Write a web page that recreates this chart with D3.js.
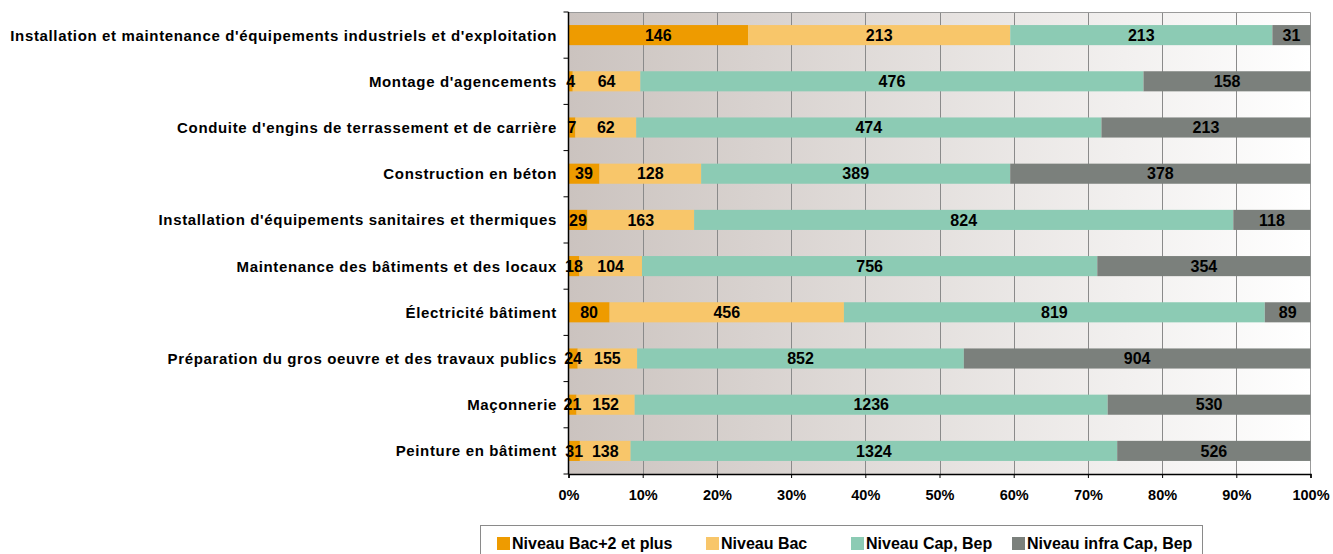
<!DOCTYPE html>
<html>
<head>
<meta charset="utf-8">
<script src="https://cdn.jsdelivr.net/npm/d3@7"></script>
<style>
  body { margin: 0; background: #fff; }
  text { font-family: "Liberation Sans", Arial, sans-serif; font-weight: bold; fill: #000; }
</style>
</head>
<body>
<div id="chart"></div>
<script>
// categories, top to bottom
var categories = [
    "Installation et maintenance d'équipements industriels et d'exploitation",
    "Montage d'agencements",
    "Conduite d'engins de terrassement et de carrière",
    "Construction en béton",
    "Installation d'équipements sanitaires et thermiques",
    "Maintenance des bâtiments et des locaux",
    "Électricité bâtiment",
    "Préparation du gros oeuvre et des travaux publics",
    "Maçonnerie",
    "Peinture en bâtiment"
];

var seriesNames = ["Niveau Bac+2 et plus", "Niveau Bac", "Niveau Cap, Bep", "Niveau infra Cap, Bep"];
var seriesColors = ["#ee9b00", "#f8c66a", "#8ccbb4", "#7b807c"];

// counts per level
var bac2 = [146, 4, 7, 39, 29, 18, 80, 24, 21, 31];
var bac = [213, 64, 62, 128, 163, 104, 456, 155, 152, 138];
var cap = [213, 476, 474, 389, 824, 756, 819, 852, 1236, 1324];
var infra = [31, 158, 213, 378, 118, 354, 89, 904, 530, 526];

var tickValues = [0, 0.1, 0.2, 0.3, 0.4, 0.5, 0.6, 0.7, 0.8, 0.9, 1];

function init()
{
    var w = 1333, h = 554;
    var left = 568.5, right = 1310.5, top = 12, bottom = 474;

    var svg = d3.select("#chart").append("svg")
        .attr("width", w)
        .attr("height", h);

    // one entry per segment
    var segs = [];
    categories.forEach(function(c, i) {
        var vals = [bac2[i], bac[i], cap[i], infra[i]];
        var total = d3.sum(vals);
        var acc = 0;
        vals.forEach(function(v, k) {
            segs.push({ cat: c, k: k, v: v, x0: acc / total, x1: (acc + v) / total });
            acc += v;
        });
    });

    var xScale = d3.scaleLinear().domain([0, 1]).range([left, right]);
    var yScale = d3.scaleBand().domain(categories).range([top, bottom]).paddingInner(0.565).paddingOuter(0.2825);

    // background gradient
    var grad = svg.append("defs").append("linearGradient")
        .attr("id", "bg").attr("x1", "0").attr("x2", "1").attr("y1", "0").attr("y2", "0");
    grad.append("stop").attr("offset", "0%").attr("stop-color", "#cbc3bf");
    grad.append("stop").attr("offset", "100%").attr("stop-color", "#ffffff");

    svg.append("rect")
        .attr("x", left).attr("y", top)
        .attr("width", right - left).attr("height", bottom - top)
        .attr("fill", "url(#bg)");

    // grid lines
    svg.append("g").selectAll("line")
        .data(tickValues.slice(1, 10))
        .join("line")
        .attr("x1", function(d) { return Math.round(xScale(d)) + 0.5; })
        .attr("x2", function(d) { return Math.round(xScale(d)) + 0.5; })
        .attr("y1", top).attr("y2", bottom)
        .attr("stroke", "#8a8a8a").attr("stroke-width", 1);

    // border top & right
    svg.append("path")
        .attr("d", "M" + left + "," + (top + 0.5) + "H" + right + "V" + bottom)
        .attr("fill", "none").attr("stroke", "#9a9a9a");

    // stacked bars
    svg.append("g").selectAll("rect")
        .data(segs)
        .join("rect")
        .attr("x", function(d) { return xScale(d.x0); })
        .attr("y", function(d) { return yScale(d.cat); })
        .attr("width", function(d) { return xScale(d.x1) - xScale(d.x0); })
        .attr("height", yScale.bandwidth())
        .attr("fill", function(d) { return seriesColors[d.k]; });

    // left axis with ticks at band boundaries
    var step = yScale.step();
    var yAxisG = svg.append("g");
    yAxisG.append("line")
        .attr("x1", left).attr("x2", left)
        .attr("y1", top).attr("y2", bottom)
        .attr("stroke", "#000").attr("stroke-width", 1.5);
    yAxisG.selectAll(".yt")
        .data(d3.range(categories.length + 1))
        .join("line")
        .attr("x1", left - 5).attr("x2", left)
        .attr("y1", function(i) { return top + i * step; })
        .attr("y2", function(i) { return top + i * step; })
        .attr("stroke", "#000");
    yAxisG.selectAll("text")
        .data(categories)
        .join("text")
        .attr("x", 557)
        .attr("y", function(d) { return yScale(d) + yScale.bandwidth() / 2; })
        .attr("dy", "0.36em")
        .attr("text-anchor", "end")
        .style("font-size", "15px")
        .style("letter-spacing", "0.65px")
        .text(function(d) { return d; });

    // bottom axis
    var xAxis = d3.axisBottom(xScale)
        .tickValues(tickValues)
        .tickSize(4)
        .tickFormat(d3.format(".0%"));
    var xg = svg.append("g")
        .attr("transform", "translate(0," + bottom + ")")
        .call(xAxis);
    xg.select(".domain").attr("stroke", "#000").attr("stroke-width", 1.5);
    xg.selectAll(".tick line").attr("stroke", "#000");
    xg.selectAll(".tick text")
        .attr("y", 16)
        .style("font-size", "14.5px")
        .style("font-family", "'Liberation Sans', Arial, sans-serif")
        .style("font-weight", "bold")
        .attr("fill", "#000");

    // value labels on top of everything
    svg.append("g").selectAll("text")
        .data(segs)
        .join("text")
        .attr("x", function(d) { return (xScale(d.x0) + xScale(d.x1)) / 2; })
        .attr("y", function(d) { return yScale(d.cat) + yScale.bandwidth() / 2; })
        .attr("dy", "0.36em")
        .attr("text-anchor", "middle")
        .style("font-size", "16px")
        .text(function(d) { return d.v; });

    // legend
    var lg = svg.append("g");
    lg.append("rect")
        .attr("x", 480.5).attr("y", 525.5)
        .attr("width", 722).attr("height", 40)
        .attr("fill", "#fff").attr("stroke", "#8a8a8a");
    var legendX = [497, 706, 851, 1012];
    seriesNames.forEach(function(s, k) {
        lg.append("rect")
            .attr("x", legendX[k]).attr("y", 537)
            .attr("width", 13).attr("height", 13)
            .attr("fill", seriesColors[k]);
        lg.append("text")
            .attr("x", legendX[k] + 15).attr("y", 549)
            .style("font-size", "16px")
            .text(s);
    });
}

window.onload = init;
</script>
</body>
</html>
